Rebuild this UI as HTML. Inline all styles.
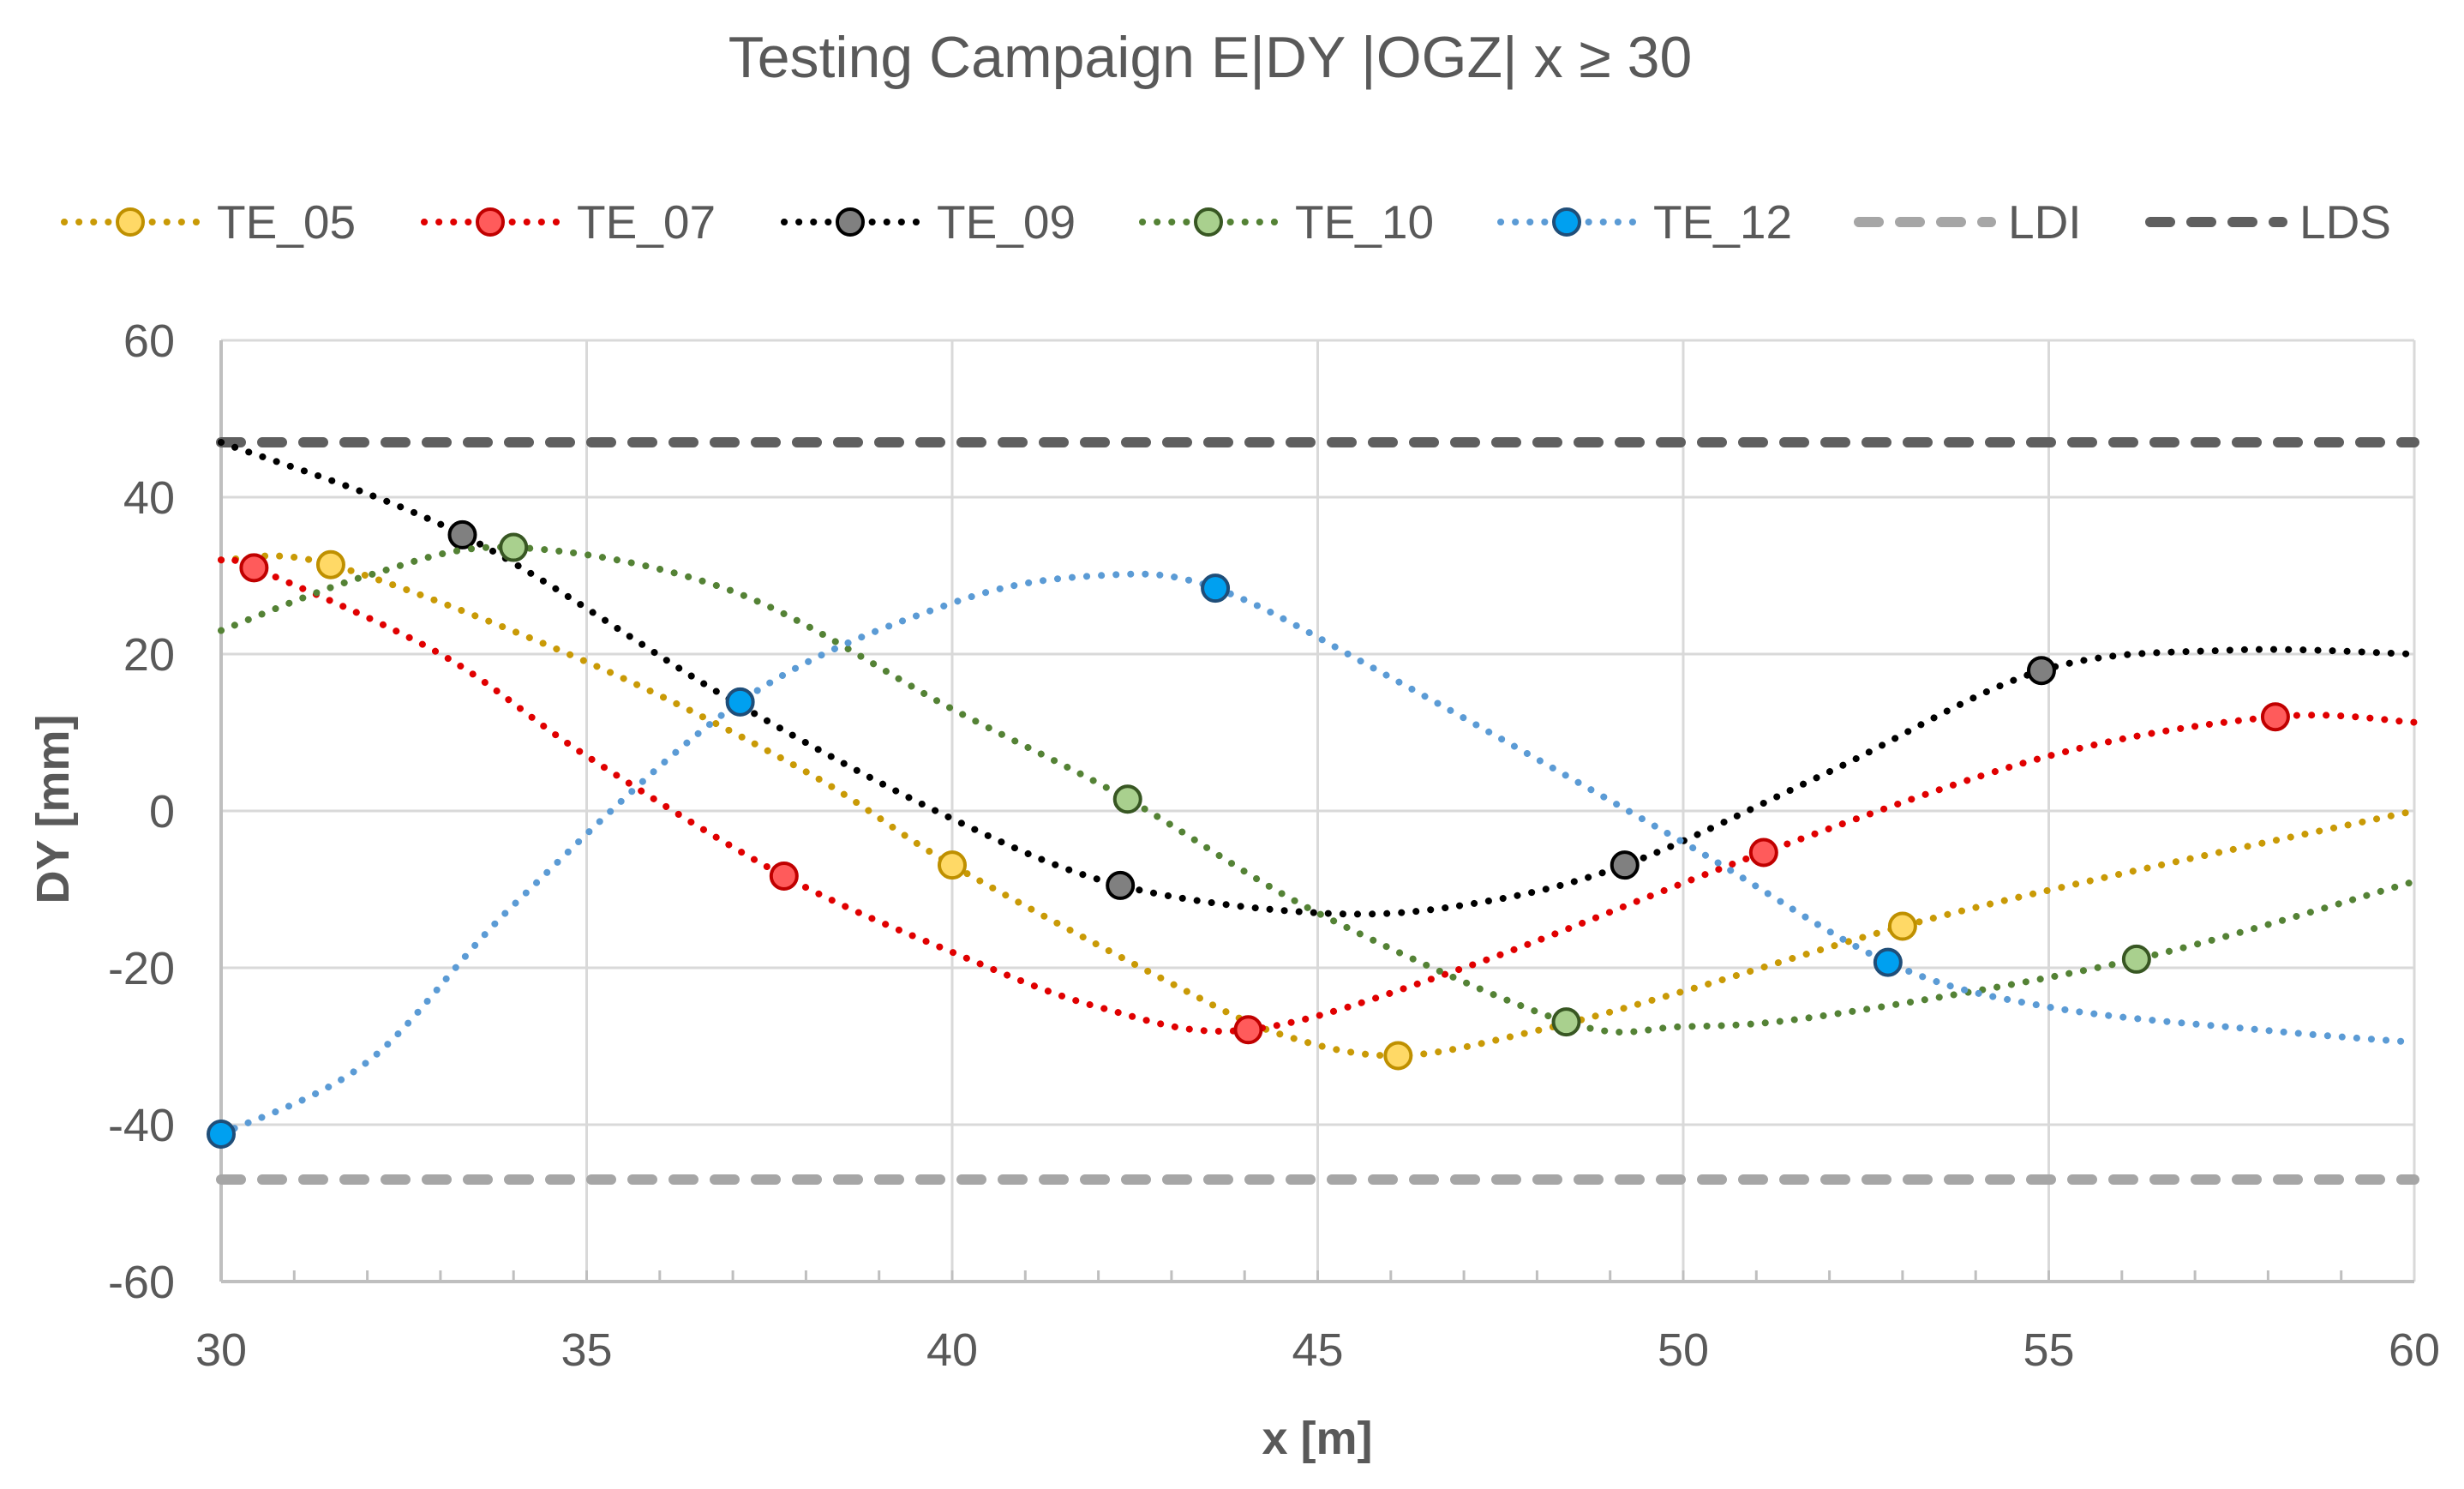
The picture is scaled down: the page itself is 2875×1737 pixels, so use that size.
<!DOCTYPE html>
<html><head><meta charset="utf-8"><style>
html,body{margin:0;padding:0;background:#fff;}
svg text{font-family:"Liberation Sans","DejaVu Sans",sans-serif;}
</style></head><body>
<svg id="chart" width="2875" height="1732" viewBox="0 0 2875 1732" xmlns="http://www.w3.org/2000/svg">
<rect width="2875" height="1732" fill="#fff"/>
<text x="1412" y="90" font-size="68" fill="#595959" text-anchor="middle">Testing Campaign E|DY |OGZ| x ≥ 30</text>
<g id="grid"></g><g id="axes"></g><g id="series"></g><g id="legend"></g>
<text x="1537" y="1696" font-size="54" font-weight="bold" fill="#595959" text-anchor="middle">x [m]</text>
<text transform="translate(80,944) rotate(-90)" font-size="54" font-weight="bold" fill="#595959" text-anchor="middle">DY [mm]</text>
</svg>
<script>
const xTicks=[30,35,40,45,50,55,60];
const yTicks=[60,40,20,0,-20,-40,-60];
const seriesNames=["TE_05","TE_07","TE_09","TE_10","TE_12"];
const te05X=[30,31.5,35,38,40,43,44.5,46.1,48,50,53,56,60];
const te05Y=[32,31.4,19,5,-6.9,-22,-28.5,-31.2,-28,-23,-14.7,-8,0];
const te05M=[1,4,7,10];
const te07X=[30,30.45,33,35,37.7,40,42,44.05,47,51.1,55,58.1,60];
const te07Y=[32,31,20,7,-8.3,-18,-25,-27.9,-20,-5.3,7,12,11.3];
const te07M=[1,4,7,9,11];
const te09X=[30,33.3,37,40,42.3,45,47,49.2,52,54.9,57.5,60];
const te09Y=[47,35.2,14,-1,-9.5,-13,-12,-6.9,5,17.9,20.5,20];
const te09M=[1,4,7,9];
const te10X=[30,32,34,37,40,42.4,45,48.4,50,52,56.2,60];
const te10Y=[23,30,33.6,28,13,1.5,-13,-26.9,-27.5,-26,-18.9,-9];
const te10M=[2,5,7,10];
const te12X=[30,32,34,37.1,40,42,43.6,46,50,52.8,55,58,60];
const te12Y=[-41.2,-32,-12,13.9,26.5,30,28.4,17,-4,-19.3,-25,-28,-29.5];
const te12M=[0,3,6,9];
const ldsValue=47, ldiValue=-47;

const NS="http://www.w3.org/2000/svg";
const X0=258,X1=2817,Y0=1495,Y1=397;
const sx=v=>X0+(v-30)/30*(X1-X0);
const sy=v=>Y0-(v+60)/120*(Y0-Y1);
function mk(tag,attrs,parent){const e=document.createElementNS(NS,tag);for(const k in attrs)e.setAttribute(k,attrs[k]);parent.appendChild(e);return e;}
const grid=document.getElementById('grid'),axes=document.getElementById('axes'),ser=document.getElementById('series'),leg=document.getElementById('legend');
xTicks.forEach(t=>{
  const l=mk('line',{x1:sx(t),x2:sx(t),y1:Y1,y2:Y0,stroke:'#D9D9D9','stroke-width':3},grid);
  
  
  const tx=mk('text',{x:sx(t),y:1593,'font-size':54,fill:'#595959','text-anchor':'middle'},axes);
  tx.textContent=t;
  
  
});
yTicks.forEach(t=>{
  const l=mk('line',{x1:X0,x2:X1,y1:sy(t),y2:sy(t),stroke:'#D9D9D9','stroke-width':3},grid);
  
  
  const tx=mk('text',{x:204,y:sy(t)+19,'font-size':54,fill:'#595959','text-anchor':'end'},axes);
  tx.textContent=t;
  
  
});
for(let t=31;t<60;t++){
  const l=mk('line',{x1:sx(t),x2:sx(t),y1:Y0,y2:Y0-13,stroke:'#BFBFBF','stroke-width':3},axes);
  
  
}
const la=mk('line',{x1:X0,x2:X0,y1:Y1,y2:Y0,stroke:'#BFBFBF','stroke-width':4},axes);


const ba=mk('line',{x1:X0,x2:X1,y1:Y0,y2:Y0,stroke:'#BFBFBF','stroke-width':4},axes);



const dashA={'stroke-width':12,'stroke-dasharray':'23 25','stroke-linecap':'round',fill:'none'};
const lds=mk('line',Object.assign({x1:X0,x2:X1,y1:sy(ldsValue),y2:sy(ldsValue),stroke:'#5F5F5F'},dashA),ser);


const ldi=mk('line',Object.assign({x1:X0,x2:X1,y1:sy(ldiValue),y2:sy(ldiValue),stroke:'#A6A6A6'},dashA),ser);



function smooth(xs,ys){
  const p=xs.map((x,i)=>[sx(x),sy(ys[i])]);
  let d=`M${p[0][0]},${p[0][1]}`;
  for(let i=0;i<p.length-1;i++){
    const a=p[i-1]||p[i],b=p[i],c=p[i+1],e=p[i+2]||c;
    const c1=[b[0]+(c[0]-a[0])/6,b[1]+(c[1]-a[1])/6],c2=[c[0]-(e[0]-b[0])/6,c[1]-(e[1]-b[1])/6];
    d+=` C${c1[0]},${c1[1]} ${c2[0]},${c2[1]} ${c[0]},${c[1]}`;
  }
  return d;
}
const styles=[
 {line:'#C99A06',fill:'#FFD966',stroke:'#BF9000'},
 {line:'#E00000',fill:'#FF5B5B',stroke:'#C00000'},
 {line:'#000000',fill:'#808080',stroke:'#000000'},
 {line:'#548235',fill:'#A9D08E',stroke:'#385723'},
 {line:'#5B9BD5',fill:'#00A0F0',stroke:'#1F4E79'}];
const data=[[te05X,te05Y,te05M],[te07X,te07Y,te07M],[te09X,te09Y,te09M],[te10X,te10Y,te10M],[te12X,te12Y,te12M]];
const dotA={'stroke-width':8,'stroke-dasharray':'0.1 17','stroke-linecap':'round',fill:'none'};
data.forEach((s,i)=>{
  const g=mk('g',{},ser);
  
  
  const path=mk('path',Object.assign({d:smooth(s[0],s[1]),stroke:styles[i].line},dotA),g);
  
  
  s[2].forEach(k=>{
    const c=mk('circle',{cx:sx(s[0][k]),cy:sy(s[1][k]),r:15,fill:styles[i].fill,stroke:styles[i].stroke,'stroke-width':4},g);
    
    
  });
});
const legX=[70,490,910,1328,1746];
seriesNames.forEach((n,i)=>{
  const g=mk('g',{},leg);
  
  
  mk('line',Object.assign({x1:legX[i]+5,x2:legX[i]+160,y1:259,y2:259,stroke:styles[i].line},dotA),g);
  mk('circle',{cx:legX[i]+82,cy:259,r:15,fill:styles[i].fill,stroke:styles[i].stroke,'stroke-width':4},g);
  const t=mk('text',{x:legX[i]+183,y:278,'font-size':55,fill:'#595959'},g);t.textContent=n;
});
[['LDI','#A6A6A6',2163],['LDS','#5F5F5F',2503]].forEach(([n,c,x])=>{
  const g=mk('g',{},leg);
  
  
  mk('line',Object.assign({x1:x+6,x2:x+160,y1:259,y2:259,stroke:c},dashA),g);
  const t=mk('text',{x:x+180,y:278,'font-size':55,fill:'#595959'},g);t.textContent=n;
});
</script>
</body></html>
